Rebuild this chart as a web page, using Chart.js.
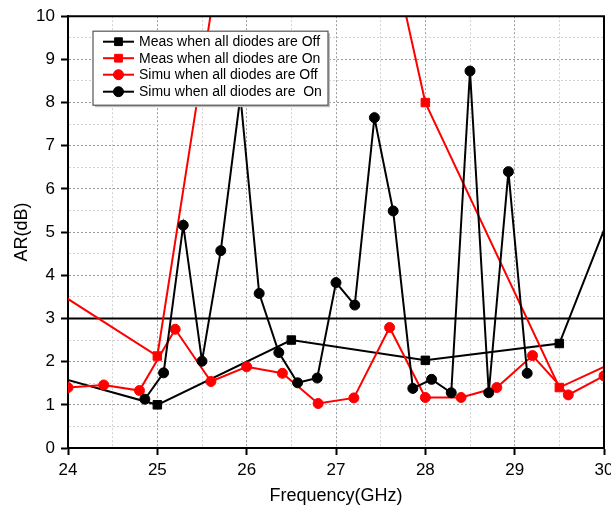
<!DOCTYPE html>
<html>
<head>
<meta charset="utf-8">
<script src="https://cdn.jsdelivr.net/npm/chart.js@4.4.1/dist/chart.umd.min.js"></script>
<style>
  html, body { margin: 0; padding: 0; background: #fff; }
  #wrap { width: 611px; height: 510px; }
</style>
</head>
<body>
<div id="wrap"><canvas id="c" width="611" height="510"></canvas></div>
<script>
// ---- Data ----
const seriesLabels = [
  'Meas when all diodes are Off',
  'Meas when all diodes are On',
  'Simu when all diodes are Off',
  'Simu when all diodes are  On'
];

// Measured, diodes Off (black squares); end points lie outside the 24–30 GHz window
const measOffFreq = [23.5, 25.0, 26.5, 28.0, 29.5, 31.0];
const measOffAR   = [1.86, 1.00, 2.50, 2.03, 2.42, 10.3];

// Measured, diodes On (red squares)
const measOnFreq = [23.5, 25.0, 26.5, 28.0, 29.5, 31.0];
const measOnAR   = [4.11, 2.13, 22.0, 8.00, 1.40, 2.84];

// Simulated, diodes Off (red circles)
const simuOffFreq = [24.0, 24.4, 24.8, 25.2, 25.6, 26.0, 26.4, 26.8, 27.2, 27.6, 28.0, 28.4, 28.8, 29.2, 29.6, 30.0];
const simuOffAR   = [1.40, 1.46, 1.33, 2.75, 1.54, 1.88, 1.73, 1.03, 1.16, 2.79, 1.17, 1.17, 1.40, 2.14, 1.23, 1.67];

// Simulated, diodes On (black circles)
const simuOnFreq = [24.86, 25.07, 25.29, 25.50, 25.71, 25.93, 26.14, 26.36, 26.57, 26.79, 27.00,
                    27.21, 27.43, 27.64, 27.86, 28.07, 28.29, 28.50, 28.71, 28.93, 29.14];
const simuOnAR   = [1.13, 1.74, 5.16, 2.01, 4.57, 8.15, 3.58, 2.21, 1.51, 1.62, 3.83,
                    3.31, 7.65, 5.49, 1.38, 1.59, 1.28, 8.73, 1.28, 6.40, 1.73];

// 3 dB axial-ratio reference line
const thresholdFreq = [24, 30];
const thresholdAR   = [3, 3];

// Axis ranges / ticks
const xRange = [24, 30];
const yRange = [0, 10];
const gridStep = 0.5;

const xTitle = 'Frequency(GHz)';
const yTitle = 'AR(dB)';

// ---- Build chart ----
const pts = (xs, ys) => xs.map((x, i) => ({ x: x, y: ys[i] }));

Chart.defaults.font.family = '"Liberation Sans", Arial, Helvetica, sans-serif';
Chart.defaults.color = '#000';

const BLACK = '#000000';
const RED = '#ff0000';

const datasets = [
  {
    label: seriesLabels[0], data: pts(measOffFreq, measOffAR),
    borderColor: BLACK, backgroundColor: BLACK, borderWidth: 2,
    pointStyle: 'rect', pointRadius: 6, pointBorderWidth: 1,
    pointBackgroundColor: BLACK, pointBorderColor: BLACK, order: 3, inLegend: true
  },
  {
    label: seriesLabels[1], data: pts(measOnFreq, measOnAR),
    borderColor: RED, backgroundColor: RED, borderWidth: 2,
    pointStyle: 'rect', pointRadius: 6, pointBorderWidth: 1,
    pointBackgroundColor: RED, pointBorderColor: RED, order: 2, inLegend: true
  },
  {
    label: seriesLabels[2], data: pts(simuOffFreq, simuOffAR),
    borderColor: RED, backgroundColor: RED, borderWidth: 2,
    pointStyle: 'circle', pointRadius: 5, pointBorderWidth: 1,
    pointBackgroundColor: RED, pointBorderColor: RED, order: 1, inLegend: true
  },
  {
    label: seriesLabels[3], data: pts(simuOnFreq, simuOnAR),
    borderColor: BLACK, backgroundColor: BLACK, borderWidth: 2,
    pointStyle: 'circle', pointRadius: 5, pointBorderWidth: 1,
    pointBackgroundColor: BLACK, pointBorderColor: BLACK, order: 0, inLegend: true
  },
  {
    label: '3 dB', data: pts(thresholdFreq, thresholdAR),
    borderColor: BLACK, borderWidth: 2, pointRadius: 0, order: 4, inLegend: false
  }
];

const isMajor = v => Math.abs(v - Math.round(v)) < 1e-6;

// Frame (top/right) and boxed legend inside the plot
const frameLegend = {
  id: 'frameLegend',
  afterDraw(chart) {
    const ctx = chart.ctx;
    const a = chart.chartArea;
    ctx.save();
    ctx.strokeStyle = '#000';
    ctx.lineWidth = 2;
    ctx.beginPath();
    ctx.moveTo(a.left, a.top);
    ctx.lineTo(a.right, a.top);
    ctx.lineTo(a.right, a.bottom);
    ctx.stroke();

    // legend box
    const lx = a.left + 25, ly = a.top + 15, lw = 235, lh = 74;
    ctx.fillStyle = '#bdbdbd';
    ctx.fillRect(lx + 2, ly + 2, lw, lh);
    ctx.fillStyle = '#fff';
    ctx.fillRect(lx, ly, lw, lh);
    ctx.strokeStyle = '#555';
    ctx.lineWidth = 1.2;
    ctx.strokeRect(lx, ly, lw, lh);

    const items = chart.data.datasets.filter(d => d.inLegend);
    const rowY = [10.5, 27, 43.5, 60.5];
    ctx.font = '14px "Liberation Sans", Arial, sans-serif';
    ctx.textBaseline = 'middle';
    ctx.textAlign = 'left';
    items.forEach((d, i) => {
      const y = ly + rowY[i];
      ctx.strokeStyle = d.borderColor;
      ctx.lineWidth = 2;
      ctx.beginPath();
      ctx.moveTo(lx + 10, y);
      ctx.lineTo(lx + 41, y);
      ctx.stroke();
      ctx.fillStyle = d.pointBackgroundColor;
      ctx.strokeStyle = d.pointBorderColor;
      ctx.lineWidth = 1;
      Chart.helpers.drawPoint(ctx, {
        pointStyle: d.pointStyle,
        radius: d.pointStyle === 'rect' ? 5.5 : 5,
        rotation: 0, borderWidth: 1
      }, lx + 25.5, y);
      ctx.fillStyle = '#000';
      ctx.fillText(d.label, lx + 46, y + 0.5);
    });
    ctx.restore();
  }
};

new Chart(document.getElementById('c'), {
  type: 'line',
  data: { datasets: datasets },
  options: {
    responsive: false,
    animation: false,
    events: [],
    layout: { padding: { left: 0, right: 6, top: 16, bottom: 0 } },
    plugins: { legend: { display: false }, tooltip: { enabled: false } },
    elements: { line: { tension: 0 } },
    scales: {
      x: {
        type: 'linear', min: xRange[0], max: xRange[1],
        afterFit(s) { s.height = 62; s.paddingLeft = 0; s.paddingRight = 0; },
        ticks: {
          stepSize: gridStep, autoSkip: false, maxRotation: 0, padding: 5,
          font: { size: 17 }, color: '#000',
          callback: v => isMajor(v) ? String(Math.round(v)) : ''
        },
        grid: {
          color: c => isMajor(c.tick.value) ? '#9a9a9a' : '#d2d2d2',
          lineWidth: 1,
          tickLength: 7, tickWidth: 2,
          tickColor: c => isMajor(c.tick.value) ? '#000' : 'rgba(0,0,0,0)'
        },
        border: { display: true, color: '#000', width: 2, dash: [2, 2] },
        title: { display: true, text: xTitle, font: { size: 18 }, color: '#000', padding: { top: 0, bottom: 3 } }
      },
      y: {
        type: 'linear', min: yRange[0], max: yRange[1],
        afterFit(s) { s.width = 68; },
        ticks: {
          stepSize: gridStep, autoSkip: false, padding: 6,
          font: { size: 17 }, color: '#000',
          callback: v => isMajor(v) ? String(Math.round(v)) : ''
        },
        grid: {
          color: c => isMajor(c.tick.value) ? '#9a9a9a' : '#d2d2d2',
          lineWidth: 1,
          tickLength: 7, tickWidth: 2,
          tickColor: c => isMajor(c.tick.value) ? '#000' : 'rgba(0,0,0,0)'
        },
        border: { display: true, color: '#000', width: 2, dash: [2, 2] },
        title: { display: true, text: yTitle, font: { size: 18 }, color: '#000', padding: { top: 11, bottom: 0 } }
      }
    }
  },
  plugins: [frameLegend]
});
</script>
</body>
</html>
